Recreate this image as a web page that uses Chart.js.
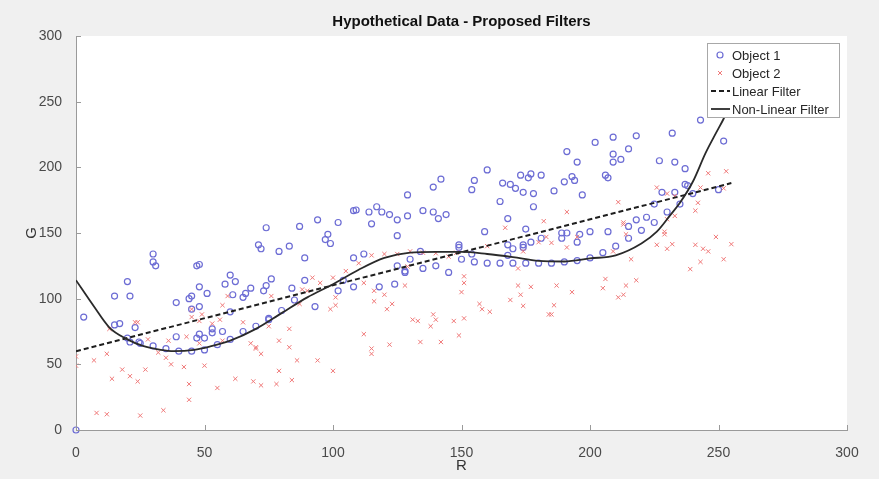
<!DOCTYPE html>
<html>
<head>
<meta charset="utf-8">
<script src="https://cdn.jsdelivr.net/npm/chart.js@4.4.1/dist/chart.umd.min.js"></script>
<style>
  html, body { margin: 0; padding: 0; background: #f0f0f0; }
  #wrap { width: 879px; height: 479px; position: relative; }
</style>
</head>
<body>
<div id="wrap"><canvas id="filterChart"></canvas></div>
<script>
// ---------- DATA ----------
const xTicks = [0, 50, 100, 150, 200, 250, 300];
const yTicks = [0, 50, 100, 150, 200, 250, 300];

// Object 1 (blue circles)
const obj1X = [0, 3, 15, 15, 17, 20, 21, 23, 20, 21, 24.5, 25, 30, 30, 31, 30, 35, 39, 39, 40,
  44, 45, 45, 45, 47, 48, 48, 48, 47, 48, 50, 50, 51, 53, 53, 55, 57, 58, 60, 60,
  60, 61, 62, 65, 65, 66, 68, 70, 71, 72, 73, 74, 75, 75, 76, 79, 80, 83, 84, 85,
  89, 89, 93, 97, 98, 99, 102, 104, 108, 108, 74, 87, 94, 102, 108, 109,
  112, 115, 114, 117, 119, 122, 125, 125, 129, 129, 130, 125, 128, 128, 118, 124, 134, 135, 135, 139,
  139, 141, 142, 144, 140, 145, 149, 149, 150, 154, 155, 154, 155, 159, 160, 160, 165, 166, 168, 165,
  168, 168, 170, 170, 169, 171, 173, 174, 174, 174, 175, 175, 176, 177, 178, 178, 177, 180, 181, 181,
  185, 186, 189, 189, 190, 191, 191, 190, 193, 194, 195, 195, 195, 197, 200, 200, 196,
  202, 209, 209, 209, 212, 215, 218, 206, 207, 232, 227, 233, 237, 243, 252, 237, 238, 233, 228, 240,
  250, 225, 235, 230, 222, 225, 218, 215, 220, 215, 207, 210, 205];
const obj1Y = [0, 86, 102, 80, 81, 113, 102, 78, 70, 67, 67, 66, 134, 128, 125, 64, 62, 97, 71, 60,
  100, 102, 92, 60, 125, 126, 109, 94, 70, 73, 70, 61, 104, 77, 74, 65, 75, 111, 118, 90,
  69, 103, 113, 75, 101, 104, 108, 79, 141, 138, 106, 110, 85, 84, 115, 136, 91, 140, 108, 99,
  131, 114, 94, 145, 149, 142, 106, 114, 131, 109, 154, 155, 160, 158, 167, 167.5,
  134, 157, 166, 170, 166, 164, 160, 148, 179, 163, 130, 125, 121, 120, 109, 111, 136, 167, 123, 185,
  166, 161, 191, 164, 125, 120, 141, 139, 130, 183, 190, 134, 128, 151, 198, 127, 174, 188, 161, 127,
  141, 133, 138, 127, 187, 184, 194, 181, 141, 139, 153, 127, 192, 195, 180, 170, 143, 127, 194, 146,
  127, 182, 150, 146, 189, 150, 212, 128, 193, 190, 204, 143, 129, 179, 151, 131, 149,
  219, 223, 210, 204, 206, 214, 224, 194, 192, 226, 205, 204, 199, 236, 220, 187, 186, 181, 181, 180,
  183, 172, 172, 166, 162, 158, 160, 155, 152, 146, 151, 140, 135];

// Object 2 (red crosses)
const obj2X = [0, 0, 7, 8, 12, 12, 13, 14, 18, 21, 23, 24, 24, 25, 27, 28, 32, 35, 34, 36,
  37, 42, 43, 44, 44, 45, 45, 48, 49, 50, 48, 53, 55, 56, 57, 57, 59, 62, 65, 69,
  68, 70, 70, 72, 72, 75, 76, 78, 79, 79, 83, 83, 84, 86, 87, 88, 90, 92, 94, 95,
  99, 100, 100, 101, 101, 105, 110,
  112, 115, 120, 125, 130, 129, 128, 135, 140, 145, 148, 151, 151, 150, 116, 116, 120, 123, 121, 112,
  122, 115, 115, 157, 158, 161, 160, 167, 169, 172, 172, 173, 174, 174, 177, 180, 182, 183, 185, 186,
  184, 185, 187, 191, 191, 193, 195, 131, 133, 134, 138, 139, 140, 142, 147, 149, 151,
  211, 213, 213, 214, 226, 230, 233, 230, 233, 229, 229, 226, 230, 232, 216, 209, 206, 205, 214, 218,
  211, 213, 246, 253, 243, 252, 242, 241, 249, 255, 241, 244, 246, 243, 239, 252];
const obj2Y = [56, 49, 53, 13, 12, 58, 77, 39, 46, 41, 82, 82, 37, 11, 46, 69, 59, 55, 15, 68,
  50, 48, 71, 35, 23, 86, 92, 83, 88, 49, 66, 81, 32, 84, 95, 68, 102, 39, 82, 37,
  66, 63, 62, 58, 34, 79, 102, 35, 68, 45, 77, 63, 38, 53, 96, 107, 106, 116, 53, 112,
  92, 45, 116, 101, 95, 121, 127,
  112, 133, 134, 134, 136, 124.5, 110, 135, 134.6, 132, 135, 117, 112, 105, 106, 98, 103, 96, 92, 73,
  65, 62, 58, 96, 92, 90, 140, 154, 99, 123, 110, 103, 94.5, 136, 109, 143, 159, 147, 142.5, 95,
  88, 88, 110, 166, 139, 105, 147, 84, 83, 67, 79, 88, 84, 67, 83, 72, 85,
  173.5, 158, 156.5, 149, 184.6, 180, 178, 160.5, 163, 151, 149, 141, 138, 141.5, 130, 136, 115, 108, 110, 114,
  101, 103, 195.5, 197, 184.6, 184, 173, 167, 147, 141.5, 141, 138, 136, 128, 122.5, 130];

// Linear filter (dashed)
const linearX = [0, 255];
const linearY = [60, 188];

// Non-linear filter (solid curve, traced)
const curveX = [0, 7, 13, 20, 26, 33, 38, 46, 52, 60, 70, 80, 90, 100, 110, 120, 130, 140, 150, 160,
  170, 180, 190, 200, 210, 220, 226, 231, 235, 240, 245, 249, 252, 255];
const curveY = [114, 94, 78, 69, 64, 61, 60, 61, 63.5, 68, 77, 89, 101, 111, 122, 131, 135, 135.6, 135.6, 134,
  131.6, 128.8, 128.3, 130.6, 133, 142, 151, 163, 173, 189, 211, 226, 237, 250];

const toPoints = (xs, ys) => xs.map((x, i) => ({ x: x, y: ys[i] }));

const blue = "#6c6cd4";
const red = "#f07878";
const axisGray = "#9a9a9a";

// white plot area on the grey figure
const plotBackground = {
    id: "plotBackground",
    beforeDraw(chart) {
        const { ctx, chartArea: a } = chart;
        ctx.save();
        ctx.fillStyle = "#ffffff";
        ctx.fillRect(a.left, a.top, a.right - a.left, a.bottom - a.top);
        ctx.restore();
    }
};

// MATLAB style inward tick marks
const inwardTicks = {
    id: "inwardTicks",
    afterDatasetsDraw(chart) {
        const { ctx, chartArea: a, scales } = chart;
        ctx.save();
        ctx.strokeStyle = axisGray;
        ctx.lineWidth = 1;
        ctx.beginPath();
        xTicks.forEach(v => {
            const px = Math.round(scales.x.getPixelForValue(v)) + 0.5;
            ctx.moveTo(px, a.bottom);
            ctx.lineTo(px, a.bottom - 5);
        });
        yTicks.forEach(v => {
            const py = Math.round(scales.y.getPixelForValue(v)) + 0.5;
            ctx.moveTo(a.left, py);
            ctx.lineTo(a.left + 5, py);
        });
        ctx.stroke();
        ctx.restore();
    }
};

// legend box inside the axes (top right)
const insideLegend = {
    id: "insideLegend",
    afterDatasetsDraw(chart) {
        const { ctx, chartArea: a } = chart;
        const boxW = 132, boxH = 74;
        const bx = a.right - 8 - boxW, by = a.top + 7;
        ctx.save();
        ctx.fillStyle = "#ffffff";
        ctx.fillRect(bx, by, boxW, boxH);
        ctx.strokeStyle = "#a8a8a8";
        ctx.lineWidth = 1;
        ctx.strokeRect(bx + 0.5, by + 0.5, boxW, boxH);

        ctx.font = "13px 'Liberation Sans', Arial, sans-serif";
        ctx.textBaseline = "middle";
        ctx.fillStyle = "#262626";
        const sampleL = bx + 4, sampleR = bx + 23, textX = bx + 25;
        chart.data.datasets.forEach((ds, i) => {
            const cy = by + 12 + i * 18;
            ctx.save();
            if (ds.legendKind === "circle") {
                ctx.strokeStyle = ds.borderColor;
                ctx.lineWidth = 1.2;
                ctx.beginPath();
                ctx.arc(bx + 13, cy, 3, 0, Math.PI * 2);
                ctx.stroke();
            } else if (ds.legendKind === "cross") {
                ctx.strokeStyle = ds.borderColor;
                ctx.lineWidth = 1;
                ctx.beginPath();
                ctx.moveTo(bx + 11, cy - 2); ctx.lineTo(bx + 15, cy + 2);
                ctx.moveTo(bx + 15, cy - 2); ctx.lineTo(bx + 11, cy + 2);
                ctx.stroke();
            } else {
                ctx.strokeStyle = ds.borderColor;
                ctx.lineWidth = ds.borderWidth;
                ctx.setLineDash(ds.borderDash || []);
                ctx.beginPath();
                ctx.moveTo(sampleL, cy);
                ctx.lineTo(sampleR, cy);
                ctx.stroke();
            }
            ctx.restore();
            ctx.fillText(ds.label, textX, cy + 1);
        });
        ctx.restore();
    }
};

const ctx = document.getElementById("filterChart").getContext("2d");
new Chart(ctx, {
    type: "scatter",
    data: {
        datasets: [
            {
                label: "Object 1",
                legendKind: "circle",
                data: toPoints(obj1X, obj1Y),
                pointStyle: "circle",
                pointRadius: 3,
                pointBorderWidth: 1.2,
                borderColor: blue,
                pointBorderColor: blue,
                pointBackgroundColor: "rgba(0,0,0,0)",
                clip: false,
                order: 3
            },
            {
                label: "Object 2",
                legendKind: "cross",
                data: toPoints(obj2X, obj2Y),
                pointStyle: "crossRot",
                pointRadius: 3,
                pointBorderWidth: 1,
                borderColor: red,
                pointBorderColor: red,
                order: 2
            },
            {
                type: "line",
                label: "Linear Filter",
                legendKind: "line",
                data: toPoints(linearX, linearY),
                borderColor: "#1e1e1e",
                borderWidth: 2,
                borderDash: [5, 3],
                pointRadius: 0,
                fill: false,
                order: 1
            },
            {
                type: "line",
                label: "Non-Linear Filter",
                legendKind: "line",
                data: toPoints(curveX, curveY),
                borderColor: "#2a2a2a",
                borderWidth: 1.8,
                cubicInterpolationMode: "monotone",
                pointRadius: 0,
                fill: false,
                order: 0
            }
        ]
    },
    options: {
        responsive: true,
        maintainAspectRatio: false,
        animation: false,
        layout: { padding: { left: 0, right: 32, top: 0, bottom: 0 } },
        scales: {
            x: {
                type: "linear",
                min: 0,
                max: 300,
                afterFit: s => { s.height = 49; },
                afterBuildTicks: s => { s.ticks = xTicks.map(v => ({ value: v })); },
                ticks: {
                    padding: 7,
                    color: "#4a4a4a",
                    font: { family: "'Liberation Sans', Arial, sans-serif", size: 14 }
                },
                grid: { display: false },
                border: { display: true, color: axisGray, width: 1 },
                title: {
                    display: true,
                    text: "R",
                    color: "#333333",
                    padding: { top: 0, bottom: 4 },
                    font: { family: "'Liberation Sans', Arial, sans-serif", size: 15 }
                }
            },
            y: {
                type: "linear",
                min: 0,
                max: 300,
                afterFit: s => { s.width = 76; },
                afterBuildTicks: s => { s.ticks = yTicks.map(v => ({ value: v })); },
                ticks: {
                    padding: 6,
                    color: "#4a4a4a",
                    font: { family: "'Liberation Sans', Arial, sans-serif", size: 14 }
                },
                grid: { display: false },
                border: { display: true, color: axisGray, width: 1 },
                title: {
                    display: true,
                    text: "G",
                    color: "#333333",
                    padding: { top: 23, bottom: 0 },
                    font: { family: "'Liberation Sans', Arial, sans-serif", size: 15 }
                }
            }
        },
        plugins: {
            legend: { display: false },
            tooltip: { enabled: false },
            title: {
                display: true,
                text: "Hypothetical Data - Proposed Filters",
                fullSize: false,
                color: "#111111",
                padding: { top: 13, bottom: 5 },
                font: { family: "'Liberation Sans', Arial, sans-serif", size: 15, weight: "bold", lineHeight: 1.2 }
            }
        }
    },
    plugins: [plotBackground, inwardTicks, insideLegend]
});
</script>
</body>
</html>
